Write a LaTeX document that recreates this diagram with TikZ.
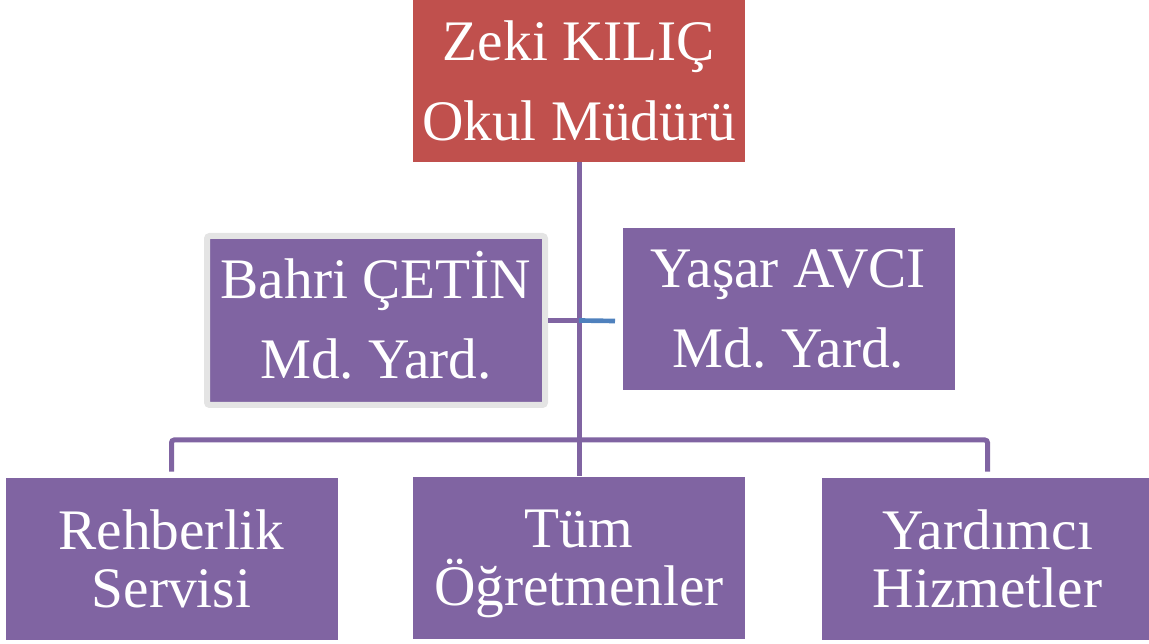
\documentclass[tikz,border=0pt]{standalone}
\usepackage{fontspec}
\setmainfont{Liberation Serif}
\usepackage{xcolor}
\usepackage{tikz}
\usetikzlibrary{positioning}
\frenchspacing

\definecolor{orgpurple}{HTML}{8064A2}
\definecolor{orgred}{HTML}{C0504D}
\definecolor{orgblue}{HTML}{4F81BD}
\definecolor{orggray}{HTML}{E4E4E4}

% line whose accents do not move it up or down
\newcommand{\capline}[1]{\smash{#1}\vphantom{B}}

\begin{document}
\begin{tikzpicture}[x=0.75pt, y=0.75pt,
    unit/.style={rectangle, fill=orgpurple, text=white, inner sep=0pt, minimum width=249pt, minimum height=121.5pt, align=center, font=\fontsize{43}{60}\selectfont},
    head/.style={unit, fill=orgred},
    deputy/.style={unit, minimum width=253.5pt, minimum height=126.75pt, draw=orggray, line width=4.5pt, rounded corners=2pt},
    staff/.style={unit, font=\fontsize{43}{43.5}\selectfont},
    link/.style={draw=orgpurple, line width=3.75pt},
    stub/.style={draw=orgblue, line width=3.5pt}
]
    \useasboundingbox (0,0) rectangle (1149,643);
    \clip (0,0) rectangle (1149,643);

    % Principal
    \node[head] (boss) at (579, 562) {Zeki KILIÇ\\Okul Müdürü};

    % Deputies
    \node[deputy] (bahri) at (376, 322.5) {\capline{Bahri ÇETİN}\\Md. Yard.};
    \node[unit] (yasar) at (788.5, 334) {Yaşar AVCI\\Md. Yard.};

    % Units
    \node[staff] (rehber) at (171.5, 84) {Rehberlik\\Servisi};
    \node[staff] (ogretmen) at (579, 85.5) {Tüm\\\capline{Öğretmenler}};
    \node[staff] (yardim) at (987.5, 84) {Yardımcı\\Hizmetler};

    \coordinate (junction) at (bahri.east -| boss.south);
    \coordinate (bus) at (579, 203);
    \coordinate (tip) at (615, 322);

    % Lines
    \draw[link] (boss.south) -- (ogretmen.north);
    \draw[link] (bahri.east) -- (junction);
    \draw[link, rounded corners=2pt] ([yshift=4.5pt]rehber.north) |- (bus) -| ([yshift=4.5pt]yardim.north);
    \draw[stub] (junction) -- (tip);
\end{tikzpicture}
\end{document}
